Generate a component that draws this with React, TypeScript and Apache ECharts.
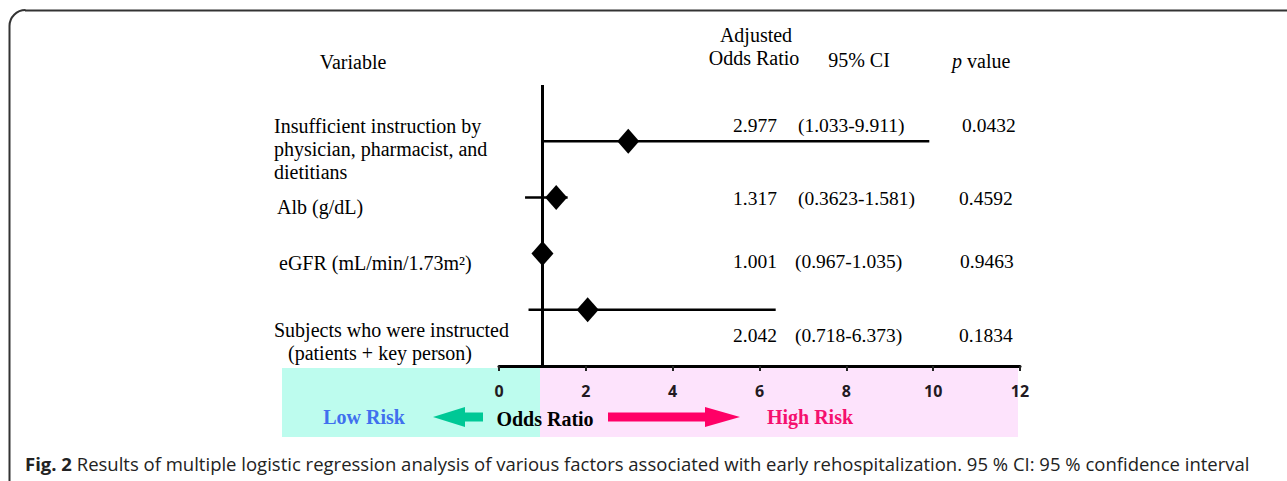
import React, { useEffect, useRef } from "react";
import * as echarts from "echarts";

// ---- data ----
const variableLines: string[][] = [
  ["Insufficient instruction by", "physician, pharmacist, and", "dietitians"],
  ["Alb (g/dL)"],
  ["eGFR (mL/min/1.73m²)"],
  ["Subjects who were instructed", "(patients + key person)"],
];
const oddsRatios = [2.977, 1.317, 1.001, 2.042];
const ciLower = [1.033, 0.6, 0.967, 0.68];
const ciUpper = [9.911, 1.581, 1.035, 6.373];
const oddsText = ["2.977", "1.317", "1.001", "2.042"];
const ciText = ["(1.033-9.911)", "(0.3623-1.581)", "(0.967-1.035)", "(0.718-6.373)"];
const pText = ["0.0432", "0.4592", "0.9463", "0.1834"];
const rowY = [4, 3, 2, 1];
const referenceLine = 1;
const xMin = 0;
const xMax = 12;
const xInterval = 2;

const SERIF = "'Liberation Serif', 'Times New Roman', serif";
const SANS = "'Open Sans', 'Noto Sans', sans-serif";

export default function App() {
  const ref = useRef<HTMLDivElement>(null);

  useEffect(() => {
    if (!ref.current) return;
    const chart = echarts.init(ref.current, undefined, { renderer: "svg" });

    const labelPos = [
      [{ x: 274, y: 126 }, { x: 274, y: 149 }, { x: 274, y: 172 }],
      [{ x: 277, y: 207 }],
      [{ x: 279, y: 263 }],
      [{ x: 274, y: 330 }, { x: 288, y: 353 }],
    ];
    const numY = [125, 198, 261, 335];
    const ciX = [798, 798, 795, 795];
    const pX = [962, 959, 960, 959];

    const graphics: any[] = [];
    // border
    graphics.push({ type: "line", shape: { x1: 25, y1: 10.5, x2: 1287, y2: 10.5 }, style: { stroke: "#333", lineWidth: 2 }, silent: true });
    graphics.push({ type: "line", shape: { x1: 9.5, y1: 26, x2: 9.5, y2: 481 }, style: { stroke: "#333", lineWidth: 2 }, silent: true });
    graphics.push({ type: "arc", shape: { cx: 25.5, cy: 26, r: 16, startAngle: Math.PI, endAngle: Math.PI * 1.5, clockwise: true }, style: { stroke: "#333", lineWidth: 2, fill: "none" }, silent: true });
    // background boxes
    graphics.push({ type: "rect", z: -1, shape: { x: 282, y: 368, width: 258, height: 69 }, style: { fill: "#bdfcee" }, silent: true });
    graphics.push({ type: "rect", z: -1, shape: { x: 540, y: 368, width: 478, height: 69 }, style: { fill: "#fde3fc" }, silent: true });
    // arrows
    graphics.push({ type: "polygon", shape: { points: [[433, 417], [465, 407], [465, 412.5], [483, 412.5], [483, 421.5], [465, 421.5], [465, 427]] }, style: { fill: "#00c896" }, silent: true });
    graphics.push({ type: "polygon", shape: { points: [[608, 412.5], [705, 412.5], [705, 407], [740, 417], [705, 427], [705, 421.5], [608, 421.5]] }, style: { fill: "#ff0066" }, silent: true });
    // legend texts
    graphics.push({ type: "text", x: 364, y: 417, style: { text: "Low Risk", font: `bold 20px ${SERIF}`, fill: "#4070ee", align: "center", verticalAlign: "middle" } });
    graphics.push({ type: "text", x: 545, y: 419, style: { text: "Odds Ratio", font: `bold 20px ${SERIF}`, fill: "#000", align: "center", verticalAlign: "middle" } });
    graphics.push({ type: "text", x: 810, y: 417, style: { text: "High Risk", font: `bold 20px ${SERIF}`, fill: "#f5106e", align: "center", verticalAlign: "middle" } });
    // headers
    const hdr = (text: string, x: number, y: number, align = "center", italicP = false) => ({
      type: "text", x, y,
      style: italicP
        ? { text: "{i|p} value", rich: { i: { fontStyle: "italic", fontFamily: SERIF, fontSize: 20, fill: "#000" } }, fontFamily: SERIF, fontSize: 20, fill: "#000", align, verticalAlign: "middle" }
        : { text, font: `20px ${SERIF}`, fill: "#000", align, verticalAlign: "middle" },
    });
    graphics.push(hdr("Variable", 353, 62));
    graphics.push(hdr("Adjusted", 756, 35));
    graphics.push(hdr("Odds Ratio", 754, 58));
    graphics.push(hdr("95% CI", 859, 60));
    graphics.push(hdr("p value", 952, 61, "left", true));
    // variable labels
    variableLines.forEach((lines, i) => {
      lines.forEach((ln, j) => {
        graphics.push({ type: "text", x: labelPos[i][j].x, y: labelPos[i][j].y, style: { text: ln, font: `20px ${SERIF}`, fill: "#000", align: "left", verticalAlign: "middle" } });
      });
    });
    // numbers
    oddsText.forEach((t, i) => {
      graphics.push({ type: "text", x: 733, y: numY[i], style: { text: t, font: `19.5px ${SERIF}`, fill: "#000", align: "left", verticalAlign: "middle" } });
      graphics.push({ type: "text", x: ciX[i], y: numY[i], style: { text: ciText[i], font: `19.5px ${SERIF}`, fill: "#000", align: "left", verticalAlign: "middle" } });
      graphics.push({ type: "text", x: pX[i], y: numY[i], style: { text: pText[i], font: `19.5px ${SERIF}`, fill: "#000", align: "left", verticalAlign: "middle" } });
    });
    // caption
    graphics.push({
      type: "text", x: 25, y: 463,
      style: {
        text: "{b|Fig. 2} Results of multiple logistic regression analysis of various factors associated with early rehospitalization. 95 % CI: 95 % confidence interval",
        fontFamily: SANS, fontSize: 18.5, fill: "#222", verticalAlign: "middle", align: "left",
        rich: { b: { fontFamily: SANS, fontSize: 18.5, fontWeight: "bold", fill: "#222" } },
      },
    });

    chart.setOption({
      animation: false,
      grid: { left: 499, right: 267, top: 85, bottom: 115, containLabel: false },
      xAxis: {
        type: "value", min: xMin, max: xMax, interval: xInterval,
        axisLine: { show: true, onZero: false, lineStyle: { color: "#000", width: 3 } },
        axisTick: { show: true, length: 5, lineStyle: { color: "#222", width: 2 } },
        splitLine: { show: false },
        axisLabel: { margin: 17, fontFamily: SANS, fontWeight: "bold", fontSize: 16, color: "#221a22" },
      },
      yAxis: { type: "value", min: 0, max: 5, show: false, splitLine: { show: false } },
      series: [
        {
          type: "custom",
          z: 3,
          data: rowY.map((y, i) => [ciLower[i], ciUpper[i], y]),
          encode: { x: [0, 1], y: 2 },
          renderItem: (params: any, api: any) => {
            const lo = api.coord([api.value(0), api.value(2)]);
            const hi = api.coord([api.value(1), api.value(2)]);
            return { type: "line", shape: { x1: lo[0], y1: lo[1], x2: hi[0], y2: hi[1] }, style: { stroke: "#000", lineWidth: 2.5 } };
          },
        },
        {
          type: "scatter",
          z: 4,
          symbol: "diamond",
          symbolSize: [22, 25],
          itemStyle: { color: "#000", opacity: 1 },
          data: rowY.map((y, i) => [oddsRatios[i], y]),
          markLine: {
            silent: true,
            symbol: ["none", "none"],
            label: { show: false },
            lineStyle: { color: "#000", width: 3, type: "solid" },
            data: [{ xAxis: referenceLine }],
          },
        },
      ],
      graphic: graphics,
    });

    return () => chart.dispose();
  }, []);

  return <div ref={ref} style={{ position: "absolute", left: 0, top: 0, width: 1287, height: 481 }} />;
}
